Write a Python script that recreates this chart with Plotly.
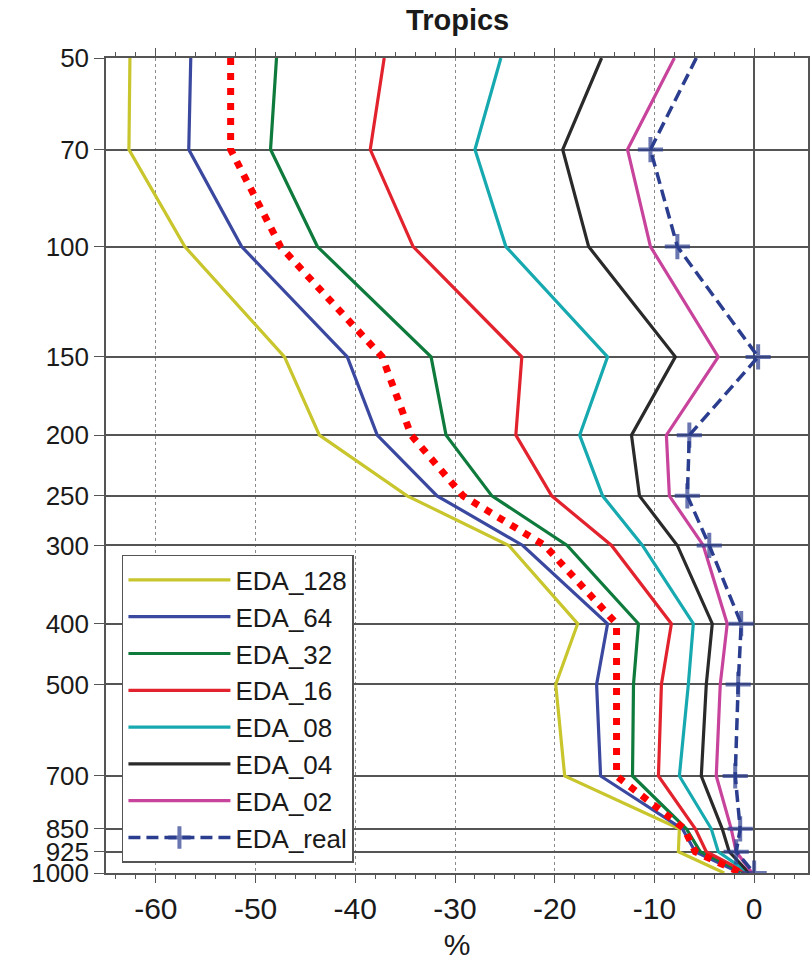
import numpy as np
import plotly.graph_objects as go

levels = [50, 70, 100, 150, 200, 250, 300, 400, 500, 700, 850, 925, 1000]
level_labels = ["50", "70", "100", "150", "200", "250", "300", "400", "500", "700", "850", "925", "1000"]

eda_128 = [-62.6, -62.7, -57.1, -47.1, -43.6, -34.8, -24.6, -17.7, -19.9, -19.0, -7.5, -7.6, -3.0]
eda_64 = [-56.5, -56.7, -51.4, -40.8, -37.8, -31.8, -23.2, -14.7, -15.8, -15.4, -7.2, -5.9, -1.4]
eda_32 = [-47.9, -48.5, -43.8, -32.4, -30.9, -26.3, -18.75, -11.6, -12.1, -12.2, -6.8, -5.4, -0.9]
eda_16 = [-37.1, -38.5, -34.2, -23.3, -23.9, -20.3, -14.3, -8.3, -9.3, -9.6, -5.9, -4.8, -0.7]
eda_08 = [-25.4, -28.0, -24.9, -14.7, -17.5, -15.2, -11.2, -6.1, -6.6, -7.5, -4.3, -3.6, -0.5]
eda_04 = [-15.3, -19.2, -16.6, -7.9, -12.3, -11.5, -7.7, -4.2, -4.8, -5.3, -3.2, -2.5, -0.5]
eda_02 = [-8.0, -12.7, -10.4, -3.6, -8.8, -8.5, -5.1, -2.7, -3.4, -3.8, -2.3, -1.8, -0.2]
eda_real = [-5.8, -10.4, -7.7, 0.4, -6.5, -6.7, -4.5, -1.3, -1.6, -1.9, -1.4, -1.8, 0.0]
red_dotted = [-52.5, -52.5, -47.5, -37.3, -34.4, -29.2, -21.0, -13.8, -13.8, -13.8, -7.0, -5.9, -1.3]

x_ticks = [-60, -50, -40, -30, -20, -10, 0]

series = [
    ("EDA_128", eda_128, "#C8C62C"),
    ("EDA_64", eda_64, "#3A48A0"),
    ("EDA_32", eda_32, "#0E7A3C"),
    ("EDA_16", eda_16, "#E2232E"),
    ("EDA_08", eda_08, "#17A9B0"),
    ("EDA_04", eda_04, "#2A2A2A"),
    ("EDA_02", eda_02, "#C8449C"),
]

FONT = "Liberation Sans, Arial, sans-serif"

fig = go.Figure()
for i, (name, vals, col) in enumerate(series):
    fig.add_trace(go.Scatter(
        x=vals, y=levels, mode="lines", name=name,
        line=dict(color=col, width=3.2),
        legendgroup=f"g{i}",
    ))

real_sizes = [0] + [18] * (len(levels) - 1)
fig.add_trace(go.Scatter(
    x=eda_real, y=levels, mode="lines+markers", name="EDA_real",
    line=dict(color="#2B3D8E", width=3.5, dash="12px,6px"),
    marker=dict(symbol="cross-thin", size=real_sizes,
                line=dict(color="#2B3D8E", width=4), color="#2B3D8E"),
    legendgroup="greal",
))
fig.add_trace(go.Scatter(
    x=red_dotted, y=levels, mode="lines", name="ref",
    line=dict(color="#FF0000", width=7, dash="7px,8px"),
    showlegend=False,
))

fig.update_layout(
    width=810, height=967,
    margin=dict(l=106, r=0, t=58, b=94),
    paper_bgcolor="white", plot_bgcolor="white",
    font=dict(family=FONT, color="#1a1a1a"),
    title=dict(text="<b>Tropics</b>", x=0.565, xanchor="center", y=0.979, yanchor="middle",
               font=dict(size=29, family=FONT, color="#1a1a1a")),
    showlegend=True,
    legend=dict(
        x=0.0227, xanchor="left", y=0.0123, yanchor="bottom",
        bgcolor="white", bordercolor="#555", borderwidth=1.5,
        font=dict(size=26, family=FONT, color="#1a1a1a"),
        itemwidth=102, tracegroupgap=3, traceorder="normal",
    ),
    xaxis=dict(
        range=[-65, 5.4], tickvals=x_ticks, ticktext=[str(v) for v in x_ticks],
        showgrid=True, gridcolor="#8a8a8a", griddash="dot", gridwidth=1.2,
        zeroline=True, zerolinecolor="#555", zerolinewidth=1.5,
        showline=True, linecolor="#555", linewidth=1.5, mirror="ticks",
        ticks="outside", ticklen=8, tickwidth=1.2, tickcolor="#555",
        minor=dict(dtick=2, tick0=0, ticks="outside", ticklen=4, tickcolor="#555", tickwidth=1, showgrid=False),
        tickfont=dict(size=30, family=FONT, color="#1a1a1a"),
        title=dict(text="%", font=dict(size=30, family=FONT, color="#1a1a1a"), standoff=10),
    ),
    yaxis=dict(
        type="log", range=[np.log10(1000), np.log10(50)],
        tickvals=levels, ticktext=level_labels,
        showgrid=True, gridcolor="#555", gridwidth=1.5,
        showline=True, linecolor="#555", linewidth=1.5, mirror=True,
        ticks="outside", ticklen=10, tickwidth=1.2, tickcolor="#555",
        tickfont=dict(size=26, family=FONT, color="#1a1a1a"),
    ),
)

fig.write_html("out.html")
